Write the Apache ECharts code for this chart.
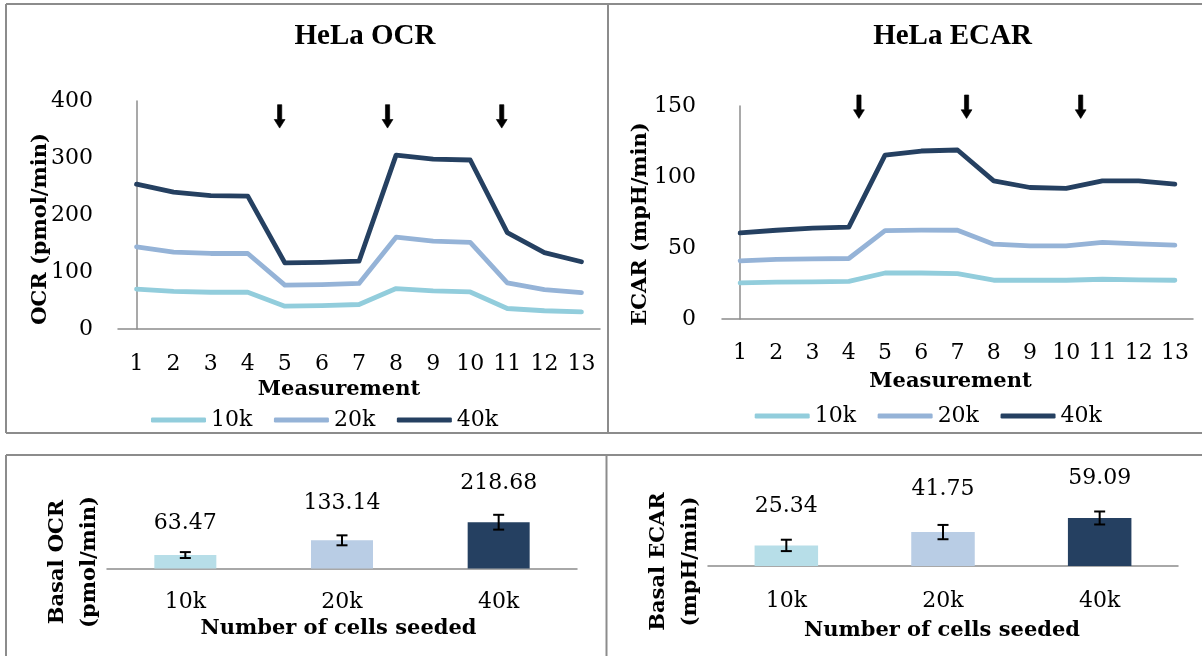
<!DOCTYPE html>
<html>
<head>
<meta charset="utf-8">
<script src="https://cdn.jsdelivr.net/npm/echarts@6/dist/echarts.min.js"></script>
<style>
html,body{margin:0;padding:0;background:#ffffff;}
#c{width:1202px;height:656px;}
</style>
</head>
<body>
<div id="c"></div>
<script>
// ---------------- data ----------------
const measurements = ['1','2','3','4','5','6','7','8','9','10','11','12','13'];
const seriesNames = ['10k','20k','40k'];

const ocr10k = [70, 66, 64.5, 64.5, 40, 41, 43, 71, 67, 65, 36, 32, 30];
const ocr20k = [144, 135, 132.5, 132.5, 77, 78, 80, 161, 154, 152, 81, 69, 64];
const ocr40k = [254, 240, 234, 233, 116, 117, 119, 305, 298, 296.5, 169, 134, 118];

const ecar10k = [25.4, 25.9, 26.1, 26.5, 32.4, 32.4, 32, 27.3, 27.3, 27.3, 28, 27.5, 27.3];
const ecar20k = [41, 42, 42.3, 42.6, 62.3, 62.6, 62.5, 52.7, 51.5, 51.5, 53.9, 52.9, 52];
const ecar40k = [60.6, 62.5, 64, 64.7, 115.4, 118.3, 119, 97.3, 92.6, 92, 97.3, 97.3, 95];

// injection arrows (category position, value level)
const ocrArrowX = [3.86, 6.77, 9.85];
const ocrArrowY = 373;
const ecarArrowX = [3.28, 6.25, 9.4];
const ecarArrowY = 149.5;

const cellCounts = ['10k','20k','40k'];
const basalOcr = [63.47, 133.14, 218.68];
const basalOcrErr = [14, 23.5, 35];
const basalEcar = [25.34, 41.75, 59.09];
const basalEcarErr = [7, 8.8, 8];

// ---------------- styles ----------------
const SERIF = 'DejaVu Serif';
const TITLE_FONT = 'Liberation Serif';
const lineColors = ['#92CDDC', '#95B3D7', '#254061'];
const barColors = ['#B7DEE8', '#B9CDE5', '#254061'];
const axisGray = '#8C8C8C';
const borderGray = '#8C8C8C';
const labelDistOcr = [21, 26, 28];
const labelDistEcar = [28, 32, 29];
const arrowPath = 'path://M3.3,0 L7.5,0 L7.5,14.8 L10.8,14.8 L5.4,23.4 L0,14.8 L3.3,14.8 Z';

const chart = echarts.init(document.getElementById('c'), null, {renderer: 'canvas'});

function catAxis(gridIndex, data, margin) {
  return {
    type: 'category', gridIndex: gridIndex, data: data, boundaryGap: true,
    axisLine: {show: true, lineStyle: {color: axisGray, width: 1.5}},
    axisTick: {show: false},
    splitLine: {show: false},
    axisLabel: {margin: margin, color: '#000', fontFamily: SERIF, fontSize: 22, interval: 0}
  };
}
function hiddenValueX(gridIndex) {
  return {type: 'value', gridIndex: gridIndex, min: -0.5, max: 12.5, show: false};
}
function valAxis(gridIndex, max, interval, margin) {
  return {
    type: 'value', gridIndex: gridIndex, min: 0, max: max, interval: interval,
    axisLine: {show: true, lineStyle: {color: axisGray, width: 1.5}},
    axisTick: {show: false},
    splitLine: {show: false},
    axisLabel: {margin: margin, color: '#000', fontFamily: SERIF, fontSize: 22}
  };
}
function lineSeries(name, data, xi, yi, color) {
  return {
    type: 'line', name: name, data: data, xAxisIndex: xi, yAxisIndex: yi,
    symbol: 'none', smooth: false, silent: true, color: color,
    lineStyle: {color: color, width: 4.8, cap: 'round', join: 'round'}
  };
}
function arrowSeries(xs, y, xi, yi) {
  return {
    type: 'scatter', xAxisIndex: xi, yAxisIndex: yi, silent: true, clip: false,
    symbol: arrowPath, symbolSize: [10.8, 23.4],
    itemStyle: {color: '#000', opacity: 1, borderColor: '#000', borderWidth: 0.6},
    data: xs.map(function (x) { return [x, y]; })
  };
}
function barSeries(values, xi, yi, width, dists) {
  return {
    type: 'bar', xAxisIndex: xi, yAxisIndex: yi, barWidth: width, silent: true,
    data: values.map(function (v, i) {
      return {value: v, itemStyle: {color: barColors[i]}, label: {distance: dists[i]}};
    }),
    label: {show: true, position: 'top', formatter: '{c}', color: '#000',
            fontFamily: SERIF, fontSize: 22}
  };
}
function errorSeries(values, errs, xi, yi) {
  return {
    type: 'custom', xAxisIndex: xi, yAxisIndex: yi, silent: true, z: 5,
    encode: {x: 0, y: [1, 2]},
    data: values.map(function (v, i) { return [i, v - errs[i], v + errs[i]]; }),
    renderItem: function (params, api) {
      const x = api.value(0);
      const lo = api.coord([x, api.value(1)]);
      const hi = api.coord([x, api.value(2)]);
      const hw = 5.5;
      const st = {stroke: '#000', lineWidth: 2};
      return {type: 'group', children: [
        {type: 'line', shape: {x1: lo[0], y1: lo[1], x2: hi[0], y2: hi[1]}, style: st},
        {type: 'line', shape: {x1: lo[0] - hw, y1: lo[1], x2: lo[0] + hw, y2: lo[1]}, style: st},
        {type: 'line', shape: {x1: hi[0] - hw, y1: hi[1], x2: hi[0] + hw, y2: hi[1]}, style: st}
      ]};
    }
  };
}
function legendAt(left, top) {
  return {
    left: left, top: top, orient: 'horizontal', data: seriesNames,
    icon: 'roundRect', itemWidth: 55, itemHeight: 5, itemGap: 21.6,
    selectedMode: false,
    textStyle: {color: '#000', fontFamily: SERIF, fontSize: 22, padding: [0, 0, 0, 0]}
  };
}
function txt(text, x, y, font, size, rotate) {
  return {
    type: 'text', x: x, y: y, rotation: rotate ? Math.PI / 2 : 0, silent: true,
    style: {text: text, fill: '#000', font: 'bold ' + size + 'px "' + font + '"',
            textAlign: 'center', textVerticalAlign: 'middle'}
  };
}
function seg(x1, y1, x2, y2) {
  return {type: 'line', silent: true, shape: {x1: x1, y1: y1, x2: x2, y2: y2},
          style: {stroke: borderGray, lineWidth: 2}};
}

const option = {
  animation: false,
  backgroundColor: '#ffffff',
  grid: [
    {left: 118, top: 101, width: 482, height: 228},
    {left: 722, top: 106, width: 471, height: 213},
    {left: 107, top: 505, width: 470, height: 63.5},
    {left: 708, top: 501, width: 470, height: 65}
  ],
  xAxis: [
    catAxis(0, measurements, 24),
    hiddenValueX(0),
    catAxis(1, measurements, 23),
    hiddenValueX(1),
    catAxis(2, cellCounts, 23),
    catAxis(3, cellCounts, 24.5)
  ],
  yAxis: [
    valAxis(0, 400, 100, 25),
    valAxis(1, 150, 50, 26),
    {type: 'value', gridIndex: 2, min: 0, max: 300, show: false},
    {type: 'value', gridIndex: 3, min: 0, max: 80, show: false}
  ],
  legend: [legendAt(146, 404), legendAt(749.7, 400)],
  series: [
    lineSeries('10k', ocr10k, 0, 0, lineColors[0]),
    lineSeries('20k', ocr20k, 0, 0, lineColors[1]),
    lineSeries('40k', ocr40k, 0, 0, lineColors[2]),
    lineSeries('10k', ecar10k, 2, 1, lineColors[0]),
    lineSeries('20k', ecar20k, 2, 1, lineColors[1]),
    lineSeries('40k', ecar40k, 2, 1, lineColors[2]),
    arrowSeries(ocrArrowX, ocrArrowY, 1, 0),
    arrowSeries(ecarArrowX, ecarArrowY, 3, 1),
    barSeries(basalOcr, 4, 2, 62, labelDistOcr),
    errorSeries(basalOcr, basalOcrErr, 4, 2),
    barSeries(basalEcar, 5, 3, 63.5, labelDistEcar),
    errorSeries(basalEcar, basalEcarErr, 5, 3)
  ],
  graphic: [
    seg(6, 4, 1202, 4), seg(6, 433, 1202, 433), seg(6, 4, 6, 433), seg(608, 4, 608, 433),
    seg(6, 455, 1202, 455), seg(6, 455, 6, 656), seg(606.5, 455, 606.5, 656),
    txt('HeLa OCR', 365, 37, TITLE_FONT, 29, false),
    txt('HeLa ECAR', 952.5, 37, TITLE_FONT, 29, false),
    txt('OCR (pmol/min)', 41, 229, SERIF, 21, true),
    txt('ECAR (mpH/min)', 641, 224, SERIF, 21, true),
    txt('Measurement', 339, 390, SERIF, 21, false),
    txt('Measurement', 950.5, 382, SERIF, 21, false),
    txt('Basal OCR', 57.5, 562, SERIF, 21, true),
    txt('(pmol/min)', 90, 562, SERIF, 21, true),
    txt('Basal ECAR', 658.5, 561.5, SERIF, 21, true),
    txt('(mpH/min)', 690.5, 561.5, SERIF, 21, true),
    txt('Number of cells seeded', 338.5, 629, SERIF, 21, false),
    txt('Number of cells seeded', 942, 631, SERIF, 21, false)
  ]
};
chart.setOption(option);
</script>
</body>
</html>
